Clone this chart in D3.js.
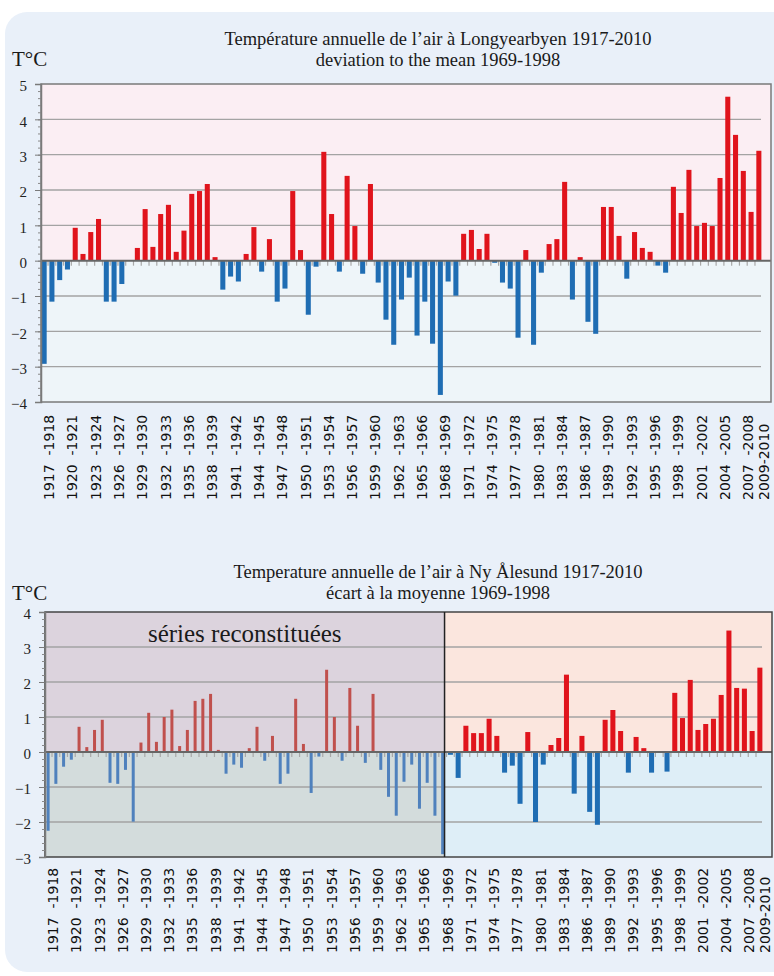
<!DOCTYPE html>
<html>
<head>
<meta charset="utf-8">
<script src="https://cdn.jsdelivr.net/npm/d3@7"></script>
<style>
  body { margin: 0; background: #fff; }
  svg { display: block; }
  .title { font-family: "Liberation Serif", serif; font-size: 18.5px; fill: #1a1a1a; }
  .unit { font-family: "Liberation Serif", serif; font-size: 21px; fill: #1a1a1a; }
  .ylab { font-family: "Liberation Serif", serif; font-size: 15px; fill: #222; }
  .xlab { font-family: "DejaVu Sans", sans-serif; font-size: 14px; fill: #111; white-space: pre; }
  .note { font-family: "Liberation Serif", serif; font-size: 25px; fill: #1a1a1a; }
</style>
</head>
<body>
<svg id="chart"></svg>
<script>
// one bar per season, named by the first year (1917 = 1917-1918)
const years = d3.range(1917, 2010);

// tick labels under the x axis, every third season plus the last one
const tickYears = [1917, 1920, 1923, 1926, 1929, 1932, 1935, 1938, 1941, 1944, 1947, 1950,
    1953, 1956, 1959, 1962, 1965, 1968, 1971, 1974, 1977, 1980, 1983, 1986, 1989, 1992,
    1995, 1998, 2001, 2004, 2007, 2009];
const tickLabels = ["1917  -1918", "1920  -1921", "1923  -1924", "1926  -1927", "1929  -1930",
    "1932  -1933", "1935  -1936", "1938  -1939", "1941  -1942", "1944  -1945", "1947  -1948",
    "1950  -1951", "1953  -1954", "1956  -1957", "1959  -1960", "1962  -1963", "1965  -1966",
    "1968  -1969", "1971  -1972", "1974  -1975", "1977  -1978", "1980  -1981", "1983  -1984",
    "1986  -1987", "1989  -1990", "1992  -1993", "1995  -1996", "1998  -1999", "2001  -2002",
    "2004  -2005", "2007  -2008", "2009-2010"];

// Longyearbyen, deviation to the mean 1969-1998 (°C), 1928 missing
const longyearbyen = [-2.92, -1.16, -0.55, -0.25, 0.93, 0.19, 0.81, 1.18, -1.16, -1.16,
    -0.66, null, 0.36, 1.46, 0.39, 1.32, 1.58, 0.25, 0.85, 1.89,
    1.97, 2.17, 0.10, -0.82, -0.45, -0.59, 0.19, 0.95, -0.31, 0.61,
    -1.16, -0.79, 1.97, 0.30, -1.53, -0.17, 3.08, 1.32, -0.31, 2.40,
    0.98, -0.37, 2.17, -0.62, -1.67, -2.38, -1.10, -0.48, -2.12, -1.16,
    -2.35, -3.80, -0.59, -0.99, 0.76, 0.87, 0.33, 0.76, -0.06, -0.62,
    -0.79, -2.18, 0.30, -2.38, -0.34, 0.47, 0.61, 2.23, -1.10, 0.10,
    -1.73, -2.07, 1.52, 1.52, 0.70, -0.51, 0.81, 0.36, 0.25, -0.14,
    -0.34, 2.09, 1.35, 2.57, 0.98, 1.07, 0.98, 2.34, 4.64, 3.56,
    2.54, 1.38, 3.11];

// Ny Ålesund, écart à la moyenne 1969-1998 (°C), before 1969 reconstructed
const nyAlesund = [-2.25, -0.91, -0.42, -0.22, 0.72, 0.14, 0.63, 0.92, -0.88, -0.91,
    -0.51, -1.99, 0.27, 1.12, 0.29, 1.00, 1.21, 0.17, 0.63, 1.46,
    1.52, 1.66, 0.06, -0.62, -0.36, -0.45, 0.11, 0.72, -0.25, 0.46,
    -0.91, -0.62, 1.52, 0.23, -1.17, -0.13, 2.35, 1.00, -0.25, 1.83,
    0.75, -0.31, 1.66, -0.51, -1.28, -1.82, -0.85, -0.36, -1.62, -0.88,
    -1.82, -2.92, -0.08, -0.74, 0.75, 0.54, 0.54, 0.95, 0.46, -0.59,
    -0.39, -1.48, 0.57, -2.00, -0.36, 0.20, 0.40, 2.21, -1.19, 0.46,
    -1.71, -2.08, 0.92, 1.20, 0.60, -0.59, 0.43, 0.11, -0.59, null,
    -0.56, 1.69, 0.97, 2.06, 0.63, 0.80, 0.95, 1.63, 3.47, 1.83,
    1.81, 0.60, 2.41];

const width = 774;
const height = 976;

const svg = d3.select('#chart')
    .attr('width', width)
    .attr('height', height);

// light blue card behind both charts
svg.append('rect')
    .attr('x', 5).attr('y', 12)
    .attr('width', 800).attr('height', 960)
    .attr('rx', 22)
    .attr('fill', '#e9f0f9');

drawChart({
    values: longyearbyen,
    titles: ['Température annuelle de l’air à Longyearbyen 1917-2010', 'deviation to the mean 1969-1998'],
    titleY: 45,
    unitY: 66,
    yDomain: [-4, 5],
    top: 84, bottom: 402,
    left: 41, right: 771, gridEnd: 761,
    labelBottom: 500,
    borderColor: '#7a7a7a'
});

drawChart({
    values: nyAlesund,
    titles: ['Temperature annuelle de l’air à Ny Ålesund 1917-2010', 'écart à la moyenne 1969-1998'],
    titleY: 578,
    unitY: 600,
    yDomain: [-3, 4],
    top: 612, bottom: 857,
    left: 45, right: 772, gridEnd: 762,
    labelBottom: 953,
    borderColor: '#444',
    splitYear: 1969,
    note: 'séries reconstituées'
});

/**
 * Draw one bar chart of yearly deviations
 * @param {object} cfg values, titles and placement of the chart
 */
function drawChart(cfg) {
    const g = svg.append('g');

    const x = d3.scaleBand()
        .domain(years)
        .range([cfg.left, cfg.gridEnd + 1])
        .paddingInner(0.35)
        .paddingOuter(0.08);

    const y = d3.scaleLinear()
        .domain(cfg.yDomain)
        .range([cfg.bottom, cfg.top]);

    const y0 = y(0);
    const gap = x.step() - x.bandwidth();
    const splitX = cfg.splitYear ? x(cfg.splitYear) - gap / 2 - 2 : cfg.left;

    // background areas: warm above zero, cool below
    const areas = [];
    if (cfg.splitYear) {
        areas.push({ x0: cfg.left, x1: splitX, y0: cfg.top, y1: y0, fill: '#dcd3dd' });
        areas.push({ x0: cfg.left, x1: splitX, y0: y0, y1: cfg.bottom, fill: '#d3dcdc' });
        areas.push({ x0: splitX, x1: cfg.right, y0: cfg.top, y1: y0, fill: '#fbe6de' });
        areas.push({ x0: splitX, x1: cfg.right, y0: y0, y1: cfg.bottom, fill: '#deeef7' });
    } else {
        areas.push({ x0: cfg.left, x1: cfg.right, y0: cfg.top, y1: y0, fill: '#fbeef3' });
        areas.push({ x0: cfg.left, x1: cfg.right, y0: y0, y1: cfg.bottom, fill: '#eef5f9' });
    }
    g.selectAll('.area')
        .data(areas)
        .join('rect')
        .attr('x', d => d.x0)
        .attr('y', d => d.y0)
        .attr('width', d => d.x1 - d.x0)
        .attr('height', d => d.y1 - d.y0)
        .attr('fill', d => d.fill);

    // horizontal grid lines on the whole degrees
    const grid = d3.range(cfg.yDomain[0] + 1, cfg.yDomain[1]).filter(v => v !== 0);
    g.selectAll('.grid')
        .data(grid)
        .join('line')
        .attr('x1', cfg.left)
        .attr('x2', cfg.gridEnd)
        .attr('y1', d => y(d))
        .attr('y2', d => y(d))
        .attr('stroke', '#a3a3a3')
        .attr('stroke-width', 1.3);

    if (cfg.note) {
        g.append('text')
            .attr('class', 'note')
            .attr('x', (cfg.left + splitX) / 2)
            .attr('y', 642)
            .attr('text-anchor', 'middle')
            .text(cfg.note);
    }

    // bars, thinner and paler for the reconstructed years
    const data = years.map((yr, i) => ({ year: yr, value: cfg.values[i] }))
        .filter(d => d.value !== null);
    const isOld = d => cfg.splitYear && d.year < cfg.splitYear;

    g.selectAll('.bar')
        .data(data)
        .join('rect')
        .attr('x', d => isOld(d) ? x(d.year) + 1 : x(d.year))
        .attr('width', d => isOld(d) ? 3 : x.bandwidth())
        .attr('y', d => y(Math.max(0, d.value)))
        .attr('height', d => Math.abs(y(d.value) - y0))
        .attr('fill', d => {
            if (isOld(d)) return d.value >= 0 ? '#c0504d' : '#4f81bd';
            return d.value >= 0 ? '#e0141c' : '#1f6db3';
        });

    // small ticks under the zero line between the bars
    g.selectAll('.ztick')
        .data(years.slice(1))
        .join('line')
        .attr('x1', d => x(d) - gap / 2)
        .attr('x2', d => x(d) - gap / 2)
        .attr('y1', y0)
        .attr('y2', y0 + 5)
        .attr('stroke', '#a8a8a8')
        .attr('stroke-width', 1.2);

    // zero line
    g.append('line')
        .attr('x1', cfg.left)
        .attr('x2', cfg.right)
        .attr('y1', y0)
        .attr('y2', y0)
        .attr('stroke', '#666')
        .attr('stroke-width', 2);

    // frame of the plot
    g.append('rect')
        .attr('x', cfg.left)
        .attr('y', cfg.top)
        .attr('width', cfg.right - cfg.left)
        .attr('height', cfg.bottom - cfg.top)
        .attr('fill', 'none')
        .attr('stroke', cfg.borderColor)
        .attr('stroke-width', 1.5);

    if (cfg.splitYear) {
        g.append('line')
            .attr('x1', splitX).attr('x2', splitX)
            .attr('y1', cfg.top).attr('y2', cfg.bottom)
            .attr('stroke', '#222')
            .attr('stroke-width', 1.5);
    }

    // y axis: whole degrees with labels, minor ticks every 0.2
    const minor = d3.range(cfg.yDomain[0] * 5, cfg.yDomain[1] * 5 + 1).map(v => v / 5);
    g.append('g')
        .attr('transform', `translate(${cfg.left},0)`)
        .call(d3.axisLeft(y).tickValues(minor).tickSize(3).tickFormat(''))
        .call(a => a.select('.domain').remove())
        .call(a => a.selectAll('line').attr('stroke', '#8a8a8a'));

    g.append('g')
        .attr('transform', `translate(${cfg.left},0)`)
        .call(d3.axisLeft(y).ticks(cfg.yDomain[1] - cfg.yDomain[0]).tickSize(6).tickPadding(8).tickFormat(d3.format('d')))
        .call(a => a.select('.domain').attr('stroke', '#7a7a7a').attr('stroke-width', 1.5))
        .call(a => a.selectAll('line').attr('stroke', '#7a7a7a'))
        .call(a => a.selectAll('text')
            .attr('class', 'ylab')
            .attr('fill', null)
            .attr('font-family', null)
            .attr('font-size', null)
            .attr('dy', '0.45em'));

    // rotated season labels
    g.selectAll('.xlab')
        .data(tickYears)
        .join('text')
        .attr('class', 'xlab')
        .attr('transform', (d, i) => {
            const cx = x(d) + x.bandwidth() / 2 + 10;
            return `translate(${cx},${cfg.labelBottom}) rotate(-90)`;
        })
        .text((d, i) => tickLabels[i]);

    // titles and unit
    g.selectAll('.title')
        .data(cfg.titles)
        .join('text')
        .attr('class', 'title')
        .attr('x', 438)
        .attr('y', (d, i) => cfg.titleY + i * 21)
        .attr('text-anchor', 'middle')
        .text(d => d);

    g.append('text')
        .attr('class', 'unit')
        .attr('x', 12)
        .attr('y', cfg.unitY)
        .text('T°C');
}
</script>
</body>
</html>
